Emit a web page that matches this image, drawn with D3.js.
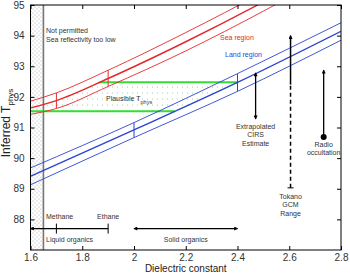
<!DOCTYPE html>
<html>
<head>
<meta charset="utf-8">
<script src="https://cdn.jsdelivr.net/npm/d3@7"></script>
<style>
body { margin: 0; background: #fff; }
svg { display: block; font-family: "Liberation Sans", Arial, sans-serif; }
.axis text { font-size: 10px; fill: #333; }
.note { font-size: 7px; fill: #333; }
</style>
</head>
<body>
<svg id="chart"></svg>
<script>
// values
var epsTicks = [1.6, 1.8, 2.0, 2.2, 2.4, 2.6, 2.8];
var tempTicks = [88, 89, 90, 91, 92, 93, 94, 95];

// sea region curves (centre, upper, lower)
var seaEps  = [1.6, 1.7, 1.9, 2.2, 2.5, 2.8];
var seaMid  = [91.64, 91.88, 92.60, 93.80, 95.10, 96.50];
var seaHigh = [91.86, 92.13, 92.87, 94.10, 95.42, 96.85];
var seaLow  = [91.43, 91.62, 92.34, 93.50, 94.80, 96.20];
var seaBars = [1.7, 1.9];

// land region curves
var landEps  = [1.6, 2.0, 2.4, 2.8];
var landMid  = [89.41, 90.92, 92.47, 94.14];
var landHigh = [89.68, 91.16, 92.76, 94.42];
var landLow  = [89.13, 90.67, 92.18, 93.85];
var landBars = [2.0, 2.4];

var plausibleT = [91.53, 92.48];
var forbiddenEps = [1.6, 1.65];

var cirsEps = 2.47, cirsRange = [91.28, 92.78];
var tokanoEps = 2.605, tokanoRange = [89.03, 92.4, 94.0]; // dashed from [0] to [1], solid to [2]
var radioEps = 2.733, radioRange = [90.69, 92.87];

var liquidEps = [1.6, 1.9], methaneEps = 1.7, ethaneEps = 1.9;
var solidEps = [2.0, 2.4];
var organicsT = 87.7;

var W = 350, H = 273;
var x = d3.scaleLinear().domain([1.6, 2.8]).range([30.5, 341]);
var y = d3.scaleLinear().domain([87, 95]).range([250, 5]);

var svg = d3.select("#chart").attr("width", W).attr("height", H);

var defs = svg.append("defs");
defs.append("clipPath").attr("id", "plot")
        .append("rect")
        .attr("x", x(1.6)).attr("y", y(95))
        .attr("width", x(2.8) - x(1.6)).attr("height", y(87) - y(95));

// stipple patterns
var grey = defs.append("pattern").attr("id", "stip").attr("patternUnits", "userSpaceOnUse")
        .attr("width", 4).attr("height", 4);
grey.append("circle").attr("cx", 1).attr("cy", 1).attr("r", 0.5).attr("fill", "#999");
grey.append("circle").attr("cx", 3).attr("cy", 3).attr("r", 0.5).attr("fill", "#999");

var green = defs.append("pattern").attr("id", "gdots").attr("patternUnits", "userSpaceOnUse")
        .attr("width", 5).attr("height", 6);
green.append("circle").attr("cx", 2.5).attr("cy", 3).attr("r", 0.6).attr("fill", "#8c8");

defs.append("marker").attr("id", "head")
        .attr("viewBox", "0 0 6 6").attr("refX", 5).attr("refY", 3)
        .attr("markerUnits", "userSpaceOnUse")
        .attr("markerWidth", 5).attr("markerHeight", 4)
        .attr("orient", "auto-start-reverse")
        .append("path").attr("d", "M0,0L6,3L0,6Z").attr("fill", "#000");

// where a curve reaches a temperature (linear between read points)
function crossAt(xs, ys, t) {
        for (var i = 0; i < xs.length - 1; i++) {
                if ((ys[i] - t) * (ys[i + 1] - t) <= 0) {
                        return xs[i] + (t - ys[i]) / (ys[i + 1] - ys[i]) * (xs[i + 1] - xs[i]);
                }
        }
        return xs[0];
}
function valueAt(xs, ys, e) { return ys[xs.indexOf(e)]; }

var g = svg.append("g").attr("clip-path", "url(#plot)");

// forbidden strip
g.append("rect")
        .attr("x", x(forbiddenEps[0])).attr("y", y(95))
        .attr("width", x(forbiddenEps[1]) - x(forbiddenEps[0]))
        .attr("height", y(87) - y(95))
        .attr("fill", "url(#stip)");
g.append("line")
        .attr("x1", x(forbiddenEps[1])).attr("x2", x(forbiddenEps[1]))
        .attr("y1", y(95)).attr("y2", y(87))
        .attr("stroke", "#777").attr("stroke-width", 1.6);

// plausible region between the sea and land centre lines
var l0 = Math.max(1.6, crossAt(seaEps, seaMid, plausibleT[0])),
    l1 = crossAt(seaEps, seaMid, plausibleT[1]),
    r0 = crossAt(landEps, landMid, plausibleT[0]),
    r1 = crossAt(landEps, landMid, plausibleT[1]);

g.append("path")
        .attr("d", "M" + x(l0) + "," + y(plausibleT[0]) + "L" + x(r0) + "," + y(plausibleT[0]) +
                "L" + x(r1) + "," + y(plausibleT[1]) + "L" + x(l1) + "," + y(plausibleT[1]) + "Z")
        .attr("fill", "url(#gdots)");

[[l0, r0, plausibleT[0]], [l1, r1, plausibleT[1]]].forEach(function (s) {
        g.append("line")
                .attr("x1", x(s[0])).attr("x2", x(s[1]))
                .attr("y1", y(s[2])).attr("y2", y(s[2]))
                .attr("stroke", "#3d3").attr("stroke-width", 2);
});

var line = d3.line().curve(d3.curveMonotoneX);

function band(xs, mid, hi, lo, bars, color) {
        [[hi, 0.9], [lo, 0.9], [mid, 1.4]].forEach(function (c) {
                g.append("path")
                        .datum(xs.map(function (e, i) { return [x(e), y(c[0][i])]; }))
                        .attr("d", line)
                        .attr("fill", "none")
                        .attr("stroke", color)
                        .attr("stroke-width", c[1]);
        });
        bars.forEach(function (e) {
                g.append("line")
                        .attr("x1", x(e)).attr("x2", x(e))
                        .attr("y1", y(valueAt(xs, hi, e))).attr("y2", y(valueAt(xs, lo, e)))
                        .attr("stroke", color).attr("stroke-width", 1);
        });
}
band(seaEps, seaMid, seaHigh, seaLow, seaBars, "#e4282c");
band(landEps, landMid, landHigh, landLow, landBars, "#2a45d4");

// estimate arrows
svg.append("line")
        .attr("x1", x(cirsEps)).attr("x2", x(cirsEps))
        .attr("y1", y(cirsRange[0])).attr("y2", y(cirsRange[1]))
        .attr("stroke", "#000").attr("stroke-width", 1.3)
        .attr("marker-start", "url(#head)").attr("marker-end", "url(#head)");

svg.append("line")
        .attr("x1", x(tokanoEps)).attr("x2", x(tokanoEps))
        .attr("y1", y(tokanoRange[1])).attr("y2", y(tokanoRange[2]))
        .attr("stroke", "#000").attr("stroke-width", 1.5)
        .attr("marker-end", "url(#head)");
svg.append("line")
        .attr("x1", x(tokanoEps)).attr("x2", x(tokanoEps))
        .attr("y1", y(tokanoRange[0])).attr("y2", y(tokanoRange[1]))
        .attr("stroke", "#000").attr("stroke-width", 1.5)
        .attr("stroke-dasharray", "4,3");
svg.append("line")
        .attr("x1", x(tokanoEps) - 3).attr("x2", x(tokanoEps) + 3)
        .attr("y1", y(tokanoRange[0])).attr("y2", y(tokanoRange[0]))
        .attr("stroke", "#000").attr("stroke-width", 1);

svg.append("line")
        .attr("x1", x(radioEps)).attr("x2", x(radioEps))
        .attr("y1", y(radioRange[0])).attr("y2", y(radioRange[1]))
        .attr("stroke", "#000").attr("stroke-width", 1.3)
        .attr("marker-end", "url(#head)");
svg.append("circle")
        .attr("cx", x(radioEps)).attr("cy", y(radioRange[0])).attr("r", 3)
        .attr("fill", "#000");

// organics ranges
svg.append("line")
        .attr("x1", x(liquidEps[0])).attr("x2", x(liquidEps[1]))
        .attr("y1", y(organicsT)).attr("y2", y(organicsT))
        .attr("stroke", "#000").attr("stroke-width", 1.3)
        .attr("marker-start", "url(#head)");
[methaneEps, ethaneEps].forEach(function (e) {
        svg.append("line")
                .attr("x1", x(e)).attr("x2", x(e))
                .attr("y1", y(organicsT) - 5).attr("y2", y(organicsT) + 5)
                .attr("stroke", "#000").attr("stroke-width", 1);
});
svg.append("line")
        .attr("x1", x(solidEps[0])).attr("x2", x(solidEps[1]))
        .attr("y1", y(organicsT)).attr("y2", y(organicsT))
        .attr("stroke", "#000").attr("stroke-width", 1.3)
        .attr("marker-start", "url(#head)").attr("marker-end", "url(#head)");

// axes, ticks inward on all four sides
svg.append("g").attr("class", "axis")
        .attr("transform", "translate(0," + y(87) + ")")
        .call(d3.axisBottom(x).tickValues(epsTicks).tickSize(-4).tickPadding(3.5)
                .tickFormat(d3.format("")))
        .call(g => g.select(".domain").remove());
svg.append("g").attr("class", "axis")
        .attr("transform", "translate(0," + y(95) + ")")
        .call(d3.axisTop(x).tickValues(epsTicks).tickSize(-4).tickFormat(""))
        .call(g => g.select(".domain").remove());
svg.append("g").attr("class", "axis")
        .attr("transform", "translate(" + x(1.6) + ",0)")
        .call(d3.axisLeft(y).tickValues(tempTicks).tickSize(-4).tickPadding(6))
        .call(g => g.select(".domain").remove());
svg.append("g").attr("class", "axis")
        .attr("transform", "translate(" + x(2.8) + ",0)")
        .call(d3.axisRight(y).tickValues(tempTicks).tickSize(-4).tickFormat(""))
        .call(g => g.select(".domain").remove());

svg.append("rect")
        .attr("x", x(1.6)).attr("y", y(95))
        .attr("width", x(2.8) - x(1.6)).attr("height", y(87) - y(95))
        .attr("fill", "none").attr("stroke", "#000").attr("stroke-width", 1);

// axis titles
svg.append("text")
        .attr("x", x(2.2)).attr("y", 272)
        .attr("text-anchor", "middle")
        .style("font-size", "10px").style("fill", "#222")
        .text("Dielectric constant");

var yl = svg.append("text")
        .attr("transform", "translate(9.5,123) rotate(-90)")
        .attr("text-anchor", "middle")
        .style("font-size", "12px").style("fill", "#222");
yl.append("tspan").text("Inferred T");
yl.append("tspan").attr("dy", 3).style("font-size", "8px").text("phys");

// notes
function note(tx, ty, txt, anchor, color) {
        return svg.append("text").attr("class", "note")
                .attr("x", tx).attr("y", ty)
                .attr("text-anchor", anchor || "start")
                .style("fill", color || "#333")
                .text(txt);
}
note(46, 33, "Not permitted");
note(46, 41.5, "Sea reflectivity too low");
note(220, 40, "Sea region", "start", "#e4282c");
note(225, 57, "Land region", "start", "#2a45d4");

var pl = note(106, 101, "Plausible T");
pl.append("tspan").attr("dy", 2.5).style("font-size", "5.5px").text("phys");

var cb = y(cirsRange[0]);
note(x(cirsEps), cb + 10, "Extrapolated", "middle");
note(x(cirsEps), cb + 18.5, "CIRS", "middle");
note(x(cirsEps), cb + 27, "Estimate", "middle");

var rb = y(radioRange[0]);
note(x(radioEps), rb + 10, "Radio", "middle");
note(x(radioEps), rb + 18, "occultation", "middle");

var tb = y(tokanoRange[0]);
note(x(tokanoEps), tb + 11, "Tokano", "middle");
note(x(tokanoEps), tb + 19.5, "GCM", "middle");
note(x(tokanoEps), tb + 28, "Range", "middle");

note(46, y(organicsT) - 10, "Methane");
note(x(ethaneEps), y(organicsT) - 10, "Ethane", "middle");
note(46, y(organicsT) + 13, "Liquid organics");
note(x(2.2), y(organicsT) + 13, "Solid organics", "middle");
</script>
</body>
</html>
